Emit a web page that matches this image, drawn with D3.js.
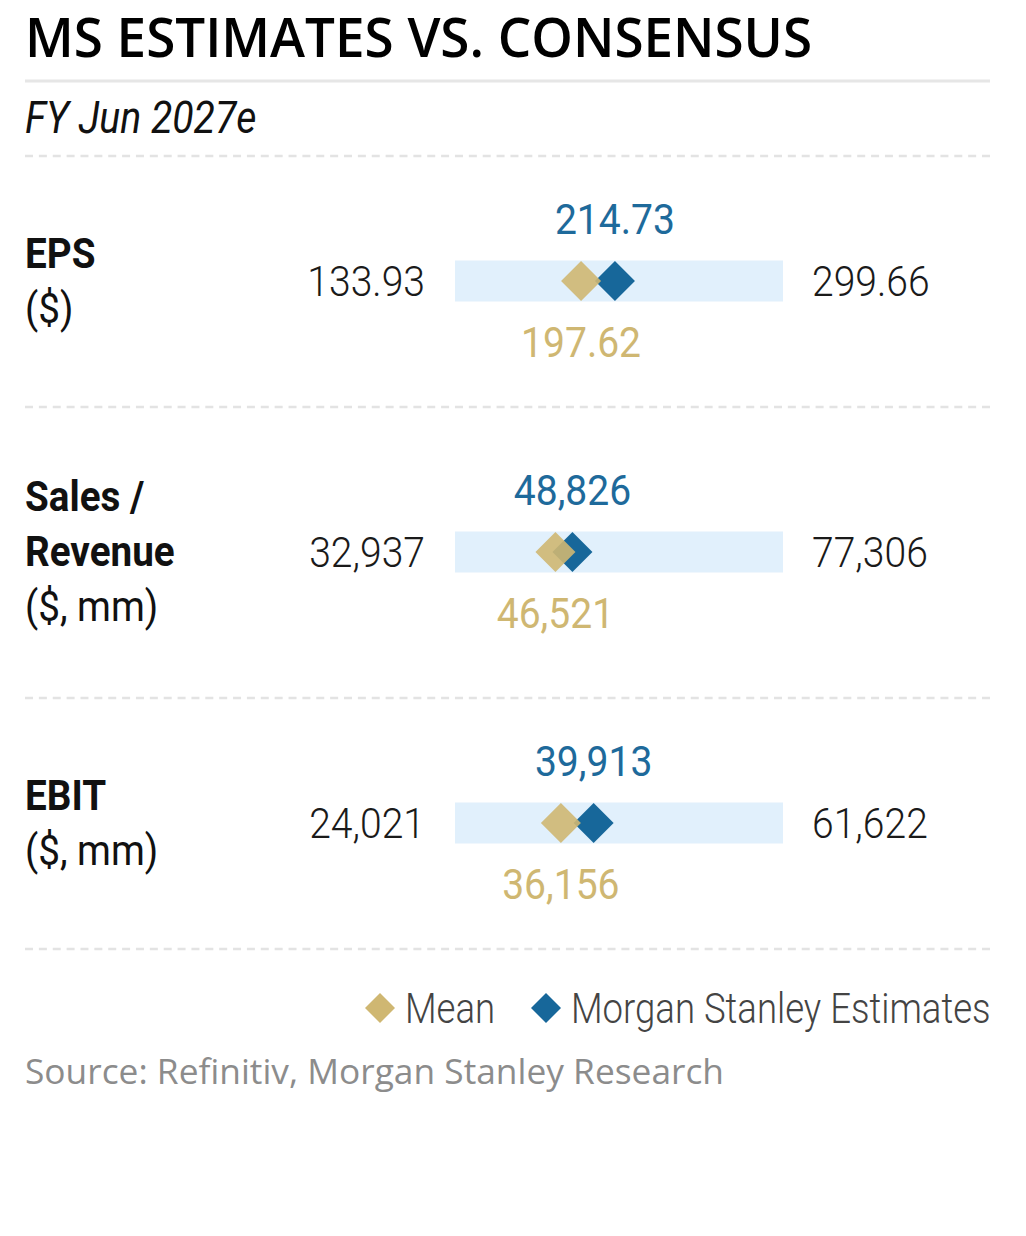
<!DOCTYPE html>
<html>
<head>
<meta charset="utf-8">
<script src="https://cdn.jsdelivr.net/npm/d3@7"></script>
<style>
  html, body { margin: 0; padding: 0; background: #fff; }
  svg { display: block; }
</style>
</head>
<body>
<script>
// ---- Data ----
const metrics = ["EPS", "Sales / Revenue", "EBIT"];
const labelLines = [["EPS"], ["Sales /", "Revenue"], ["EBIT"]];
const unitLabels = ["($)", "($, mm)", "($, mm)"];
const lowValues = [133.93, 32937, 24021];
const highValues = [299.66, 77306, 61622];
const meanValues = [197.62, 46521, 36156];
const msValues = [214.73, 48826, 39913];
const decimals = [2, 0, 0];
const legendLabels = ["Mean", "Morgan Stanley Estimates"];
const titleText = "MS ESTIMATES VS. CONSENSUS";
const subtitleText = "FY Jun 2027e";
const sourceText = "Source: Refinitiv, Morgan Stanley Research";

// ---- Style ----
const W = 1026, H = 1236;
const TAN = "#cfb772", BLUE = "#17679a", BLUE_TXT = "#1e6a9b", BAR = "#e1f0fc";
const COND = "Roboto, 'Liberation Sans Narrow', sans-serif";
const SX = 0.92; // condensing factor
const HUMAN = "'Open Sans', 'Noto Sans', sans-serif";

const svg = d3.select("body").append("svg").attr("width", W).attr("height", H);

function ctext(g, x, y, str, o) {
  return g.append("text")
    .attr("transform", `translate(${x},${y}) scale(${o.sx || SX},1)`)
    .attr("text-anchor", o.anchor || "start")
    .attr("font-family", o.family || COND)
    .attr("font-size", o.size)
    .attr("font-weight", o.weight || 400)
    .attr("font-style", o.style || "normal")
    .attr("fill", o.fill || "#111")
    .text(str);
}

// Title
svg.append("text").attr("x", 25).attr("y", 57)
  .attr("font-family", HUMAN).attr("font-weight", 600).attr("font-size", 54)
  .attr("fill", "#000").attr("textLength", 787).attr("lengthAdjust", "spacingAndGlyphs")
  .text(titleText);
svg.append("line").attr("x1", 25).attr("x2", 990).attr("y1", 81).attr("y2", 81)
  .attr("stroke", "#e6e6e6").attr("stroke-width", 3);
ctext(svg, 25, 133, subtitleText, { size: 44, style: "italic", fill: "#111", sx: 0.89 });

// Dividers
const dividerY = [156, 407, 698, 949];
svg.selectAll("line.div").data(dividerY).join("line").attr("class", "div")
  .attr("x1", 25).attr("x2", 990).attr("y1", d => d).attr("y2", d => d)
  .attr("stroke", "#e3e3e3").attr("stroke-width", 2.5).attr("stroke-dasharray", "8,5.87");

// Rows
const yRow = d3.scalePoint().domain(metrics).range([281, 823]);
const barX0 = 455, barX1 = 783, barH = 41, dHalf = 20;
const fmt = (v, i) => decimals[i] ? d3.format(",." + decimals[i] + "f")(v) : d3.format(",")(v);
const diamond = (cx, cy, r) => `M${cx},${cy - r}L${cx + r},${cy}L${cx},${cy + r}L${cx - r},${cy}Z`;

metrics.forEach((m, i) => {
  const cy = yRow(m);
  const g = svg.append("g");
  const x = d3.scaleLinear().domain([lowValues[i], highValues[i]]).range([barX0, barX1]);

  // label block
  const lines = labelLines[i].concat([unitLabels[i]]);
  const first = cy + 14 - (lines.length - 1) * 27.5;
  lines.forEach((ln, j) => {
    const bold = j < labelLines[i].length;
    ctext(g, 25, first + j * 55, ln, { size: 42, weight: bold ? 700 : 400, fill: "#111" });
  });

  // bar
  g.append("rect").attr("x", x(lowValues[i])).attr("y", cy - barH / 2)
    .attr("width", x(highValues[i]) - x(lowValues[i])).attr("height", barH).attr("fill", BAR);

  // range values
  ctext(g, x(lowValues[i]) - 30, cy + 15, fmt(lowValues[i], i), { size: 42, weight: 300, anchor: "end", fill: "#1a1a1a", sx: 0.93 });
  ctext(g, x(highValues[i]) + 29, cy + 15, fmt(highValues[i], i), { size: 42, weight: 300, fill: "#1a1a1a", sx: 0.93 });

  // diamonds
  g.append("path").attr("d", diamond(x(msValues[i]), cy, dHalf)).attr("fill", BLUE);
  g.append("path").attr("d", diamond(x(meanValues[i]), cy, dHalf)).attr("fill", TAN).attr("opacity", 0.9);

  // value labels
  ctext(g, x(msValues[i]), cy - 47, fmt(msValues[i], i), { size: 42, anchor: "middle", fill: BLUE_TXT, sx: 0.93 });
  ctext(g, x(meanValues[i]), cy + 76, fmt(meanValues[i], i), { size: 42, anchor: "middle", fill: TAN, sx: 0.93 });
});

// Legend
const legColors = [TAN, BLUE];
const legDX = [380, 546];
legendLabels.forEach((t, i) => {
  svg.append("path").attr("d", diamond(legDX[i], 1008, 15)).attr("fill", legColors[i]);
  ctext(svg, legDX[i] + 25, 1023, t, { size: 42, weight: 300, fill: "#444", sx: 0.87 });
});

// Source
svg.append("text").attr("x", 25).attr("y", 1084)
  .attr("font-family", HUMAN).attr("font-size", 35).attr("fill", "#8c8c8c")
  .attr("textLength", 699).attr("lengthAdjust", "spacingAndGlyphs")
  .text(sourceText);
</script>
</body>
</html>
